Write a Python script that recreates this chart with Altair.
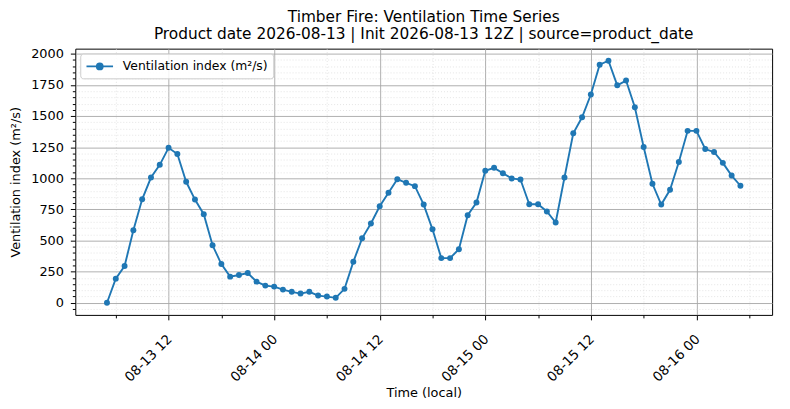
"""Timber Fire ventilation index time series (matplotlib-style look in Altair)."""

import altair as alt
import pandas as pd

_FONT = "DejaVu Sans"
_LINE_COLOR = "#1f77b4"
_MAJOR_GRID = "#a6a6a6"
_MINOR_GRID = "#d9d9d9"

SERIES = "Ventilation index (m²/s)"
TITLE_LINES = [
    "Timber Fire: Ventilation Time Series",
    "Product date 2026-08-13 | Init 2026-08-13 12Z | source=product_date",
]

# hourly samples, local time 08-13 05:00 .. 08-16 05:00
TIMES = pd.date_range("2026-08-13 05:00", periods=73, freq="h", tz="UTC")
VENT = [
    0, 194, 295, 582, 831, 1006, 1108, 1245, 1195, 972,
    829, 712, 462, 311, 210, 223, 239, 170, 138, 130,
    106, 88, 74, 88, 58, 50, 40, 112, 329, 518,
    637, 775, 884, 993, 964, 937, 789, 590, 359, 359,
    430, 703, 805, 1060, 1084, 1041, 999, 990, 791, 791,
    733, 645, 1006, 1362, 1490, 1673, 1912, 1944, 1747, 1785,
    1570, 1251, 956, 789, 908, 1131, 1381, 1381, 1235, 1211,
    1124, 1022, 940,
]

# major ticks every 12 h (labelled), minor every 6 h
X_TICKS = pd.date_range("2026-08-13 06:00", "2026-08-16 06:00", freq="6h", tz="UTC")
# major ticks every 250 (labelled), minor every 50
Y_TICKS = list(range(-50, 2001, 50))


def _ms(ts: pd.Timestamp) -> int:
    return int(ts.value // 10**6)


df = pd.DataFrame({"t": [_ms(t) for t in TIMES], "v": VENT, "series": SERIES})

# matplotlib-like 5% margins
_pad_t = (TIMES[-1] - TIMES[0]) * 0.05
_pad_v = (max(VENT) - min(VENT)) * 0.05
x_domain = [_ms(TIMES[0] - _pad_t), _ms(TIMES[-1] + _pad_t)]
y_domain = [min(VENT) - _pad_v, max(VENT) + _pad_v]

_X_MAJOR = "utchours(datum.value) % 12 == 0"
_Y_MAJOR = "datum.value % 250 == 0"


def _cond(test: str, major, minor) -> dict:
    return {"condition": {"test": test, "value": major}, "value": minor}


x_axis = alt.Axis(
    values=[_ms(t) for t in X_TICKS],
    labelExpr=f"{_X_MAJOR} ? utcFormat(datum.value, '%m-%d %H') : ''",
    labelAngle=-45,
    labelAlign="right",
    labelBaseline="top",
    labelPadding=12,
    labelOffset=-4,
    labelFontSize=13.5,
    title="Time (local)",
    titleFontSize=13,
    titleFontWeight="normal",
    titlePadding=3,
    tickSize=_cond(_X_MAJOR, 5, 3),
    gridColor=_cond(_X_MAJOR, _MAJOR_GRID, _MINOR_GRID),
    gridDash=_cond(_X_MAJOR, [], [1, 2]),
    gridWidth=_cond(_X_MAJOR, 0.9, 0.7),
)

y_axis = alt.Axis(
    values=Y_TICKS,
    labelExpr=f"{_Y_MAJOR} ? format(datum.value, 'd') : ''",
    labelFontSize=13,
    labelPadding=7,
    title=SERIES,
    titleFontSize=13,
    titleFontWeight="normal",
    titlePadding=8,
    tickSize=_cond(_Y_MAJOR, 5, 3),
    gridColor=_cond(_Y_MAJOR, _MAJOR_GRID, _MINOR_GRID),
    gridDash=_cond(_Y_MAJOR, [], [1, 2]),
    gridWidth=_cond(_Y_MAJOR, 0.9, 0.7),
)

x_enc = alt.X("t:T", scale=alt.Scale(type="utc", domain=x_domain, nice=False), axis=x_axis)
y_enc = alt.Y("v:Q", scale=alt.Scale(domain=y_domain, nice=False, zero=False), axis=y_axis)
color_enc = alt.Color(
    "series:N",
    scale=alt.Scale(domain=[SERIES], range=[_LINE_COLOR]),
    legend=alt.Legend(
        title=None,
        orient="top-left",
        offset=5,
        padding=5,
        labelFontSize=12.5,
        labelOffset=22,
        # line with a dot, drawn wider than the layout box
        symbolType="M-1,0L3,0M0.55,0A0.45,0.45,0,1,1,1.45,0A0.45,0.45,0,1,1,0.55,0Z",
        symbolSize=180,
        symbolStrokeWidth=1.8,
        symbolFillColor=_LINE_COLOR,
        strokeColor="#cccccc",
        fillColor="rgba(255,255,255,0.85)",
        cornerRadius=3,
    ),
)

base = alt.Chart(df)
line = base.mark_line(strokeWidth=1.9).encode(x=x_enc, y=y_enc, color=color_enc)
points = base.mark_point(filled=True, size=36, opacity=1).encode(x=x_enc, y=y_enc, color=color_enc)

chart = (
    (line + points)
    .properties(
        width=704,
        height=269,
        autosize=alt.AutoSizeParams(type="none"),
        padding={"left": 68, "top": 39, "right": 10, "bottom": 93},
        title=alt.TitleParams(
            TITLE_LINES,
            fontSize=15.5,
            fontWeight="normal",
            anchor="middle",
            offset=5,
            lineHeight=17.5,
            color="black",
        ),
    )
    .configure(font=_FONT)
    .configure_view(stroke="black", strokeWidth=1)
    .configure_axis(
        domain=False,
        tickColor="black",
        tickWidth=1,
        labelColor="black",
        titleColor="black",
        labelFont=_FONT,
        titleFont=_FONT,
    )
    .configure_legend(labelFont=_FONT, labelColor="black")
    .configure_title(font=_FONT)
)

chart.save("out.html", embed_options={"renderer": "svg", "actions": False})
